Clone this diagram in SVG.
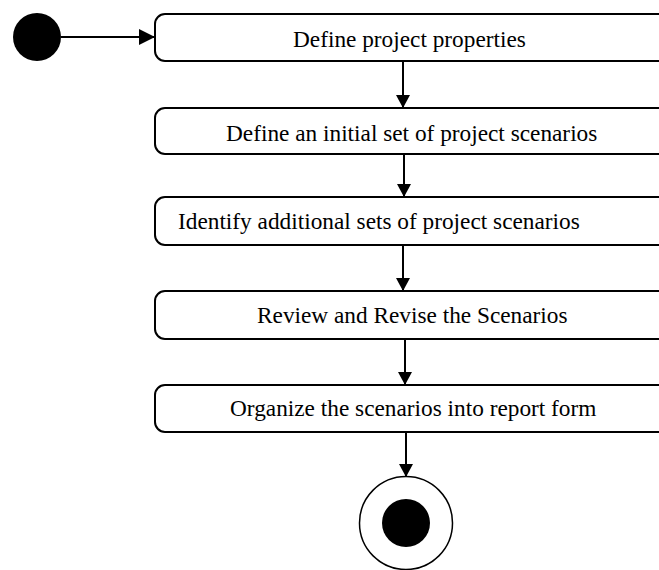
<svg xmlns="http://www.w3.org/2000/svg" width="659" height="570" viewBox="0 0 659 570">
<style>
.box{fill:#fff;stroke:#000;stroke-width:2}
.lbl{font-family:"Liberation Serif","Times New Roman",serif;font-size:23.3px;fill:#000}
.con{stroke:#000;stroke-width:2;fill:none}
</style>
<defs>
<marker id="ah" markerWidth="14" markerHeight="14" refX="13" refY="7" orient="auto" markerUnits="userSpaceOnUse">
<path d="M0,0 L13,7 L0,14 Z" fill="#000"/>
</marker>
<marker id="ahh" markerWidth="16" markerHeight="16" refX="16" refY="8" orient="auto" markerUnits="userSpaceOnUse">
<path d="M0,0 L16,8 L0,16 Z" fill="#000"/>
</marker>
</defs>
<rect width="659" height="570" fill="#fff"/>
<g id="start"><circle cx="37" cy="37" r="24" fill="#000"/></g>
<g id="n1"><rect class="box" x="155" y="14" width="530" height="47" rx="10"/><text class="lbl" x="293" y="47">Define project properties</text></g>
<g id="n2"><rect class="box" x="155" y="108" width="530" height="46" rx="10"/><text class="lbl" x="226" y="141">Define an initial set of project scenarios</text></g>
<g id="n3"><rect class="box" x="155" y="197" width="530" height="48" rx="10"/><text class="lbl" x="178" y="229">Identify additional sets of project scenarios</text></g>
<g id="n4"><rect class="box" x="155" y="291" width="530" height="48" rx="10"/><text class="lbl" x="257" y="323">Review and Revise the Scenarios</text></g>
<g id="n5"><rect class="box" x="155" y="385" width="530" height="47" rx="10"/><text class="lbl" x="230" y="416">Organize the scenarios into report form</text></g>
<g id="end"><circle cx="406" cy="523" r="46.5" fill="#fff" stroke="#000" stroke-width="1.5"/><circle cx="406" cy="523" r="24" fill="#000"/></g>
<g id="connectors">
<line class="con" x1="61" y1="37" x2="155" y2="37" marker-end="url(#ahh)"/>
<line class="con" x1="403" y1="61" x2="403" y2="108" marker-end="url(#ah)"/>
<line class="con" x1="404" y1="154" x2="404" y2="197" marker-end="url(#ah)"/>
<line class="con" x1="403" y1="245" x2="403" y2="291" marker-end="url(#ah)"/>
<line class="con" x1="405" y1="339" x2="405" y2="385" marker-end="url(#ah)"/>
<line class="con" x1="406" y1="432" x2="406" y2="477" marker-end="url(#ah)"/>
</g>
</svg>
